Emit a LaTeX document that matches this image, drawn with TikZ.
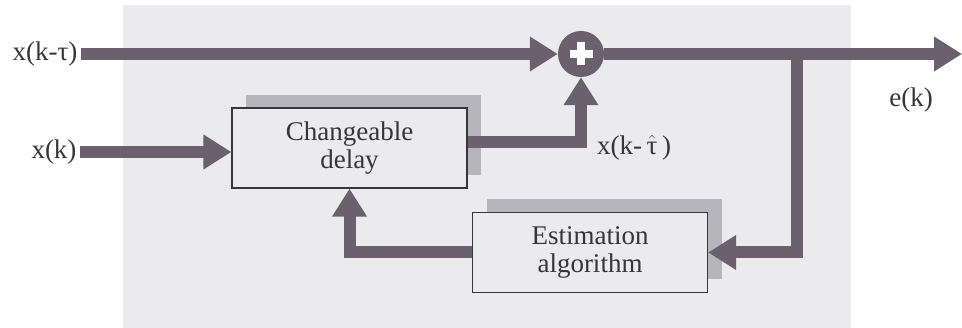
\documentclass[tikz,border=0pt]{standalone}
\usepackage{fontspec}
\setmainfont{Liberation Serif}
\usetikzlibrary{arrows.meta,shadows}
\definecolor{flowc}{RGB}{106,96,110}
\definecolor{paper}{RGB}{235,235,238}
\definecolor{shade}{RGB}{182,181,188}
\definecolor{inkc}{RGB}{55,52,58}
\tikzset{
  flow/.style={draw=flowc, line width=12pt, -{Triangle[length=28pt,width=33pt]}},
  block/.style={draw=inkc, line width=1.2pt, fill=paper, text=inkc, minimum width=235pt,
    minimum height=80pt, align=center, inner sep=0pt,
    drop shadow={shadow xshift=14pt, shadow yshift=13pt, fill=shade, opacity=1}},
  sig/.style={text=inkc},
}
\begin{document}
\begin{tikzpicture}[x=1pt,y=1pt,font=\rmfamily\fontsize{27}{28}\selectfont]
  \useasboundingbox (0,0) rectangle (962,328);
  \fill[paper] (123,0) rectangle (851,323);

  % blocks
  \node[block] (delay) at (349.5,180) {Changeable\\delay};
  \node[block] (est) at (590,75.5) {Estimation\\algorithm};
  \node[circle, fill=flowc, minimum size=46pt, inner sep=0pt] (sum) at (581,274) {};
  \draw[white, line width=8pt] ([xshift=-11.5pt]sum.center) -- ([xshift=11.5pt]sum.center);
  \draw[white, line width=8pt] ([yshift=-11.5pt]sum.center) -- ([yshift=11.5pt]sum.center);

  % signals
  \node[sig] (xtau) at (45,274) {x(k-τ)};
  \node[sig] (xk) at (54,176) {x(k)};
  \node[sig, anchor=west, inner sep=0pt] (xhat) at (597,180) {x(k-\,$\hat{\hbox{τ}}$\,)};
  \node[sig] (ek) at (911,228) {e(k)};
  \coordinate (dout) at (581,186);
  \coordinate (br) at (797,274);
  \coordinate (eout) at (962,274);

  \draw[flow] (xtau) -- (sum);
  \draw[flow] (xk) -- (xk -| delay.west);
  \draw[flow] (dout -| delay.east) -| (sum);
  \draw[flow] (sum) -- (eout);
  \draw[flow] (br) |- (est);
  \draw[flow] (est) -| (delay);
\end{tikzpicture}
\end{document}
